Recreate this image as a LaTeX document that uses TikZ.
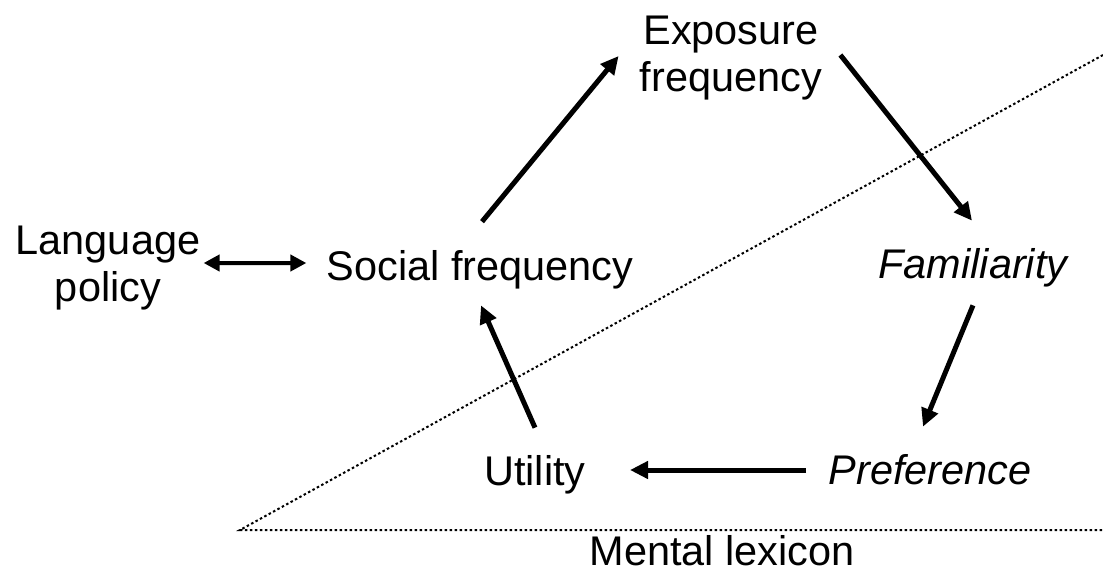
\documentclass[tikz,border=0pt]{standalone}
\usepackage{fontspec}
\setmainfont{Liberation Sans}
\usetikzlibrary{arrows.meta,calc}

\tikzset{
  lbl/.style={font=\fontsize{23.6}{26.8}\selectfont, inner sep=0pt},
  word/.style={lbl, text height=0.6cm, text depth=0.18cm, anchor=base},
  flow/.style={line width=0.1cm, -{Triangle[length=0.36cm,width=0.34cm]}},
  twoway/.style={line width=0.08cm, {Triangle[length=0.32cm,width=0.32cm]}-{Triangle[length=0.32cm,width=0.32cm]}},
  boundary/.style={line width=0.04cm, dash pattern=on 0.05cm off 0.05cm},
}

\begin{document}
\begin{tikzpicture}[x=0.02cm, y=-0.02cm]
	\useasboundingbox (0,0) rectangle (1103,576);
	% boundary of the mental lexicon
	\draw[boundary] (1103,55) -- (240,530) -- (1103,530);
	% nodes
	\node[lbl, align=center] (lang) at (108,268) {Language\\policy};
	\node[word] (soc) at (480,280) {Social frequency};
	\node[lbl, align=center] (exp) at (731,58) {Exposure\\frequency};
	\node[word] (fam) at (973,278) {\itshape Familiarity};
	\node[word] (pref) at (930,484) {\itshape Preference};
	\node[word] (util) at (535,485) {Utility};
	\node[word] (lex) at (722,565) {Mental lexicon};
	% cycle
	\draw[flow] ($(soc.north)+(2,-28)$) -- ($(exp.west)+(-21,-2)$);
	\draw[flow] ($(exp.east)+(18,-3)$) -- ($(fam.north)+(-1,-27)$);
	\draw[flow] ($(fam.south)+(0,18)$) -- ($(pref.north)+(-7,-27)$);
	\draw[flow] ($(pref.west)+(-22,-3.5)$) -- ($(util.east)+(44,-4.5)$);
	\draw[flow] ($(util.north)+(0,-27)$) -- ($(soc.south)+(1,16)$);
	\draw[twoway] ($(lang.east)+(3,-5)$) -- ($(soc.west)+(-20,-6.5)$);
\end{tikzpicture}
\end{document}
